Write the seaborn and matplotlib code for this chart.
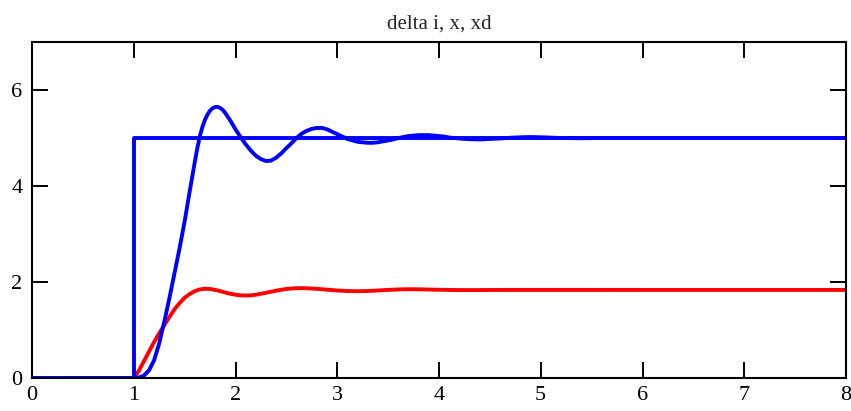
import numpy as np
import pandas as pd
import seaborn as sns
import matplotlib
matplotlib.use("Agg")
import matplotlib.pyplot as plt

# step setpoint xd
t_step = [0.0, 1.0, 1.0, 8.0]
xd = [0.0, 0.0, 5.0, 5.0]

# response x (blue)
t_x = [0.0, 1.00, 1.05, 1.10, 1.15, 1.20, 1.25, 1.30, 1.35, 1.40, 1.45,
       1.50, 1.55, 1.60, 1.625, 1.65, 1.675, 1.70, 1.725, 1.75, 1.775,
       1.80, 1.825, 1.85, 1.875, 1.90, 1.95,
       2.00, 2.05, 2.10, 2.15, 2.20, 2.25, 2.30, 2.35, 2.40, 2.45,
       2.50, 2.55, 2.60, 2.65, 2.70, 2.75, 2.80, 2.85, 2.90, 2.95,
       3.00, 3.05, 3.10, 3.15, 3.20, 3.25, 3.30, 3.35, 3.40, 3.45,
       3.50, 3.55, 3.60, 3.65, 3.70, 3.75, 3.80, 3.85, 3.90, 3.95,
       4.00, 4.05, 4.10, 4.20, 4.30, 4.40, 4.50, 4.60, 4.70, 4.80,
       4.90, 5.00, 5.20, 5.40, 5.60, 6.00, 7.00, 8.00]
x = [0.0, 0.00, 0.01, 0.05, 0.16, 0.37, 0.72, 1.17, 1.66, 2.18, 2.70,
     3.26, 3.89, 4.50, 4.79, 5.04, 5.23, 5.38, 5.49, 5.57, 5.62,
     5.645, 5.648, 5.625, 5.585, 5.52, 5.36,
     5.18, 5.02, 4.87, 4.74, 4.63, 4.56, 4.52, 4.53, 4.59, 4.68,
     4.79, 4.89, 5.00, 5.09, 5.15, 5.19, 5.21, 5.21, 5.18, 5.13,
     5.08, 5.03, 4.98, 4.95, 4.92, 4.91, 4.90, 4.90, 4.91, 4.93,
     4.95, 4.97, 5.00, 5.02, 5.04, 5.05, 5.06, 5.06, 5.06, 5.05,
     5.04, 5.03, 5.01, 4.99, 4.975, 4.97, 4.98, 4.99, 5.005, 5.015,
     5.02, 5.015, 5.00, 4.995, 5.00, 5.00, 5.00, 5.00]

# delta i (red)
t_di = [0.0, 1.00, 1.05, 1.10, 1.15, 1.20, 1.25, 1.30, 1.35, 1.40, 1.45,
        1.50, 1.55, 1.60, 1.65, 1.70, 1.75, 1.80, 1.85, 1.90, 1.95,
        2.00, 2.05, 2.10, 2.15, 2.20, 2.30, 2.40, 2.50, 2.60, 2.70,
        2.80, 2.90, 3.00, 3.10, 3.20, 3.30, 3.40, 3.50, 3.60, 3.70,
        3.80, 3.90, 4.00, 4.20, 4.40, 4.60, 5.00, 6.00, 8.00]
delta_i = [0.0, 0.00, 0.15, 0.35, 0.55, 0.75, 0.93, 1.10, 1.27, 1.43, 1.56,
           1.67, 1.75, 1.81, 1.845, 1.86, 1.855, 1.835, 1.81, 1.78, 1.755,
           1.735, 1.722, 1.718, 1.722, 1.735, 1.775, 1.82, 1.855, 1.872, 1.87,
           1.858, 1.84, 1.823, 1.812, 1.808, 1.813, 1.823, 1.835, 1.845, 1.85,
           1.848, 1.843, 1.838, 1.832, 1.832, 1.835, 1.836, 1.835, 1.835]

sns.set_style("ticks")
plt.rcParams["font.family"] = ["Liberation Serif", "DejaVu Serif"]

fig = plt.figure(figsize=(8.51, 4.11), dpi=100)
ax = fig.add_axes([32 / 851, 1 - 378 / 411, 814 / 851, 336 / 411])

red_df = pd.DataFrame({"t": t_di, "v": delta_i})
x_df = pd.DataFrame({"t": t_x, "v": x})
step_df = pd.DataFrame({"t": t_step, "v": xd})

sns.lineplot(data=red_df, x="t", y="v", ax=ax, color="#ff0000", lw=2.8,
             estimator=None, sort=False)
sns.lineplot(data=x_df, x="t", y="v", ax=ax, color="#0000ff", lw=2.8,
             estimator=None, sort=False)
sns.lineplot(data=step_df, x="t", y="v", ax=ax, color="#0000ff", lw=2.8,
             estimator=None, sort=False)

ax.set_xlim(0, 8)
ax.set_ylim(0, 7)
ax.set_xticks(range(0, 9))
ax.set_yticks([0, 2, 4, 6])
ax.set_xlabel("")
ax.set_ylabel("")
ax.set_title("delta i, x, xd", fontsize=15, pad=10)

ax.tick_params(direction="in", length=11.5, width=1.4, labelsize=16,
               top=True, right=True, colors="black")
ax.tick_params(axis="x", pad=6)
ax.tick_params(axis="y", pad=7)
for sp in ax.spines.values():
    sp.set_visible(True)
    sp.set_linewidth(1.5)
    sp.set_color("black")

fig.savefig("out.png", dpi=100)
